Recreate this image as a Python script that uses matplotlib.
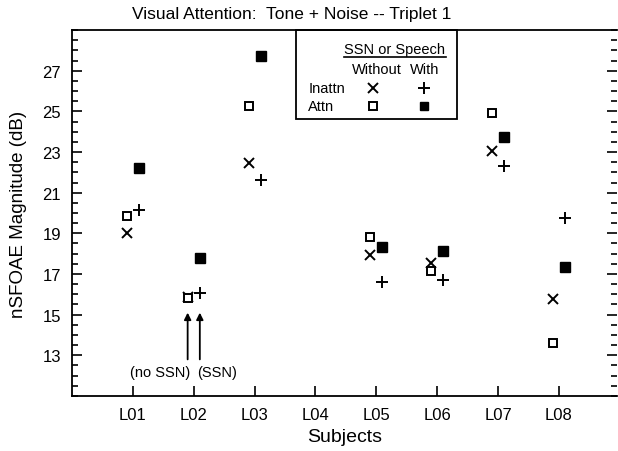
import numpy as np
import matplotlib.pyplot as plt
from matplotlib.ticker import MultipleLocator

plt.rcParams["font.family"] = ["Liberation Sans", "DejaVu Sans"]

subjects = ["L01", "L02", "L03", "L04", "L05", "L06", "L07", "L08"]
# nSFOAE magnitude (dB); NaN where no data (L04)
inattn_without = [19.0, 15.85, 22.46, np.nan, 17.91, 17.52, 23.06, 15.78]
inattn_with = [20.17, 16.05, 21.64, np.nan, 16.62, 16.71, 22.33, 19.73]
attn_without = [19.83, 15.8, 25.28, np.nan, 18.83, 17.16, 24.92, 13.59]
attn_with = [22.2, 17.78, 27.73, np.nan, 18.35, 18.11, 23.74, 17.32]

x = np.arange(1, len(subjects) + 1)
off = 0.1

fig = plt.figure(figsize=(6.18, 4.52), dpi=100)
ax = fig.add_axes([0.1165, 0.1217, 0.8815, 0.8097])

ax.plot(x - off, inattn_without, "kx", ms=6.5, mew=1.4, ls="none")
ax.plot(x + off, inattn_with, "k+", ms=8.5, mew=1.4, ls="none")
ax.plot(x - off, attn_without, "ks", ms=6, mfc="white", mew=1.4, ls="none")
ax.plot(x + off, attn_with, "ks", ms=6.5, ls="none")

ax.set_xlim(0, 8.95)
ax.set_ylim(11, 29)
ax.set_xticks(x)
ax.set_xticklabels(subjects)
ax.set_yticks(np.arange(13, 28, 2))
ax.yaxis.set_minor_locator(MultipleLocator(0.5))
ax.tick_params(axis="x", direction="in", length=7, width=1.2, top=False,
               labelsize=12, pad=8)
ax.tick_params(axis="y", which="major", direction="in", length=7, width=1.2,
               right=True, labelsize=12, pad=8)
ax.tick_params(axis="y", which="minor", direction="in", length=4, width=1.2,
               right=True)
for s in ax.spines.values():
    s.set_linewidth(1.3)
ax.spines["right"].set_visible(False)

ax.set_xlabel("Subjects", fontsize=14)
ax.set_ylabel("nSFOAE Magnitude (dB)", fontsize=13.5)
ax.yaxis.set_label_coords(-0.083, 0.5)
fig.text(291.5 / 618, 1 - 14 / 452, "Visual Attention:  Tone + Noise -- Triplet 1",
         ha="center", va="center", fontsize=12.5)

# arrows under L02
for xa in (2 - off, 2 + off):
    ax.annotate("", xy=(xa, 15.1), xytext=(xa, 12.8),
                arrowprops=dict(arrowstyle="-|>", color="k", lw=1.3,
                                mutation_scale=10, shrinkA=0, shrinkB=0))
ax.text(1.445, 12.18, "(no SSN)", ha="center", va="center", fontsize=10.5)
ax.text(2.39, 12.18, "(SSN)", ha="center", va="center", fontsize=10.5)

# legend box drawn by hand (pixel coords -> axes fraction)
def px(xp, yp):
    return ((xp - 72) / 545, (397 - yp) / 366)

x0, y0 = px(295.7, 119.7)
x1, y1 = px(456.7, 31)
ax.add_patch(plt.Rectangle((x0, y0), x1 - x0, y1 - y0, transform=ax.transAxes,
                           fill=False, ec="k", lw=1.3, clip_on=False))
fs = 10.5
ax.text(*px(395, 49.7), "SSN or Speech", transform=ax.transAxes,
        ha="center", va="center", fontsize=fs)
ax.plot(*zip(px(344, 58), px(445.7, 58)), color="k", lw=1.2,
        transform=ax.transAxes)
ax.text(*px(376.7, 70.3), "Without", transform=ax.transAxes,
        ha="center", va="center", fontsize=fs)
ax.text(*px(425, 70.3), "With", transform=ax.transAxes,
        ha="center", va="center", fontsize=fs)
ax.text(*px(308.3, 89), "Inattn", transform=ax.transAxes,
        ha="left", va="center", fontsize=fs)
ax.text(*px(308.3, 107), "Attn", transform=ax.transAxes,
        ha="left", va="center", fontsize=fs)
ax.plot(*px(373.3, 89), "kx", ms=6.5, mew=1.4, transform=ax.transAxes)
ax.plot(*px(424.3, 89), "k+", ms=8.5, mew=1.4, transform=ax.transAxes)
ax.plot(*px(373.3, 107), "ks", ms=5.5, mfc="white", mew=1.4,
        transform=ax.transAxes)
ax.plot(*px(424.3, 107), "ks", ms=6, transform=ax.transAxes)

fig.savefig("out.png", dpi=100)
